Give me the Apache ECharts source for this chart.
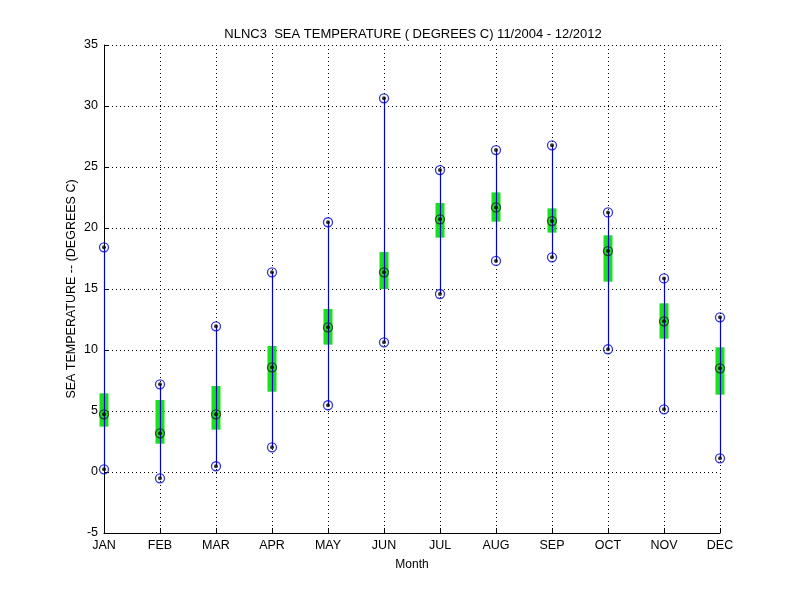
<!DOCTYPE html>
<html>
<head>
<meta charset="utf-8">
<title>NLNC3 sea temperature</title>
<script src="https://cdn.jsdelivr.net/npm/echarts@6/dist/echarts.min.js"></script>
<style>
  html, body { margin: 0; padding: 0; background: #fff; }
  #chart { width: 800px; height: 600px; }
</style>
</head>
<body>
<div id="chart"></div>
<script>
// monthly stats
const months = ['JAN', 'FEB', 'MAR', 'APR', 'MAY', 'JUN', 'JUL', 'AUG', 'SEP', 'OCT', 'NOV', 'DEC'];
const minVals = [0.22, -0.52, 0.47, 2.02, 5.47, 10.63, 14.59, 17.3, 17.6, 10.06, 5.14, 1.12];
const maxVals = [18.42, 7.19, 11.94, 16.37, 20.47, 30.63, 24.75, 26.39, 26.78, 21.28, 15.87, 12.68];
const medVals = [4.73, 3.17, 4.73, 8.58, 11.86, 16.37, 20.71, 21.69, 20.57, 18.11, 12.35, 8.5];
const boxLow = [3.72, 2.32, 3.47, 6.58, 10.44, 15.0, 19.21, 20.52, 19.62, 15.6, 10.93, 6.34];
const boxHigh = [6.45, 5.9, 7.05, 10.33, 13.36, 18.03, 22.05, 22.92, 21.61, 19.4, 13.83, 10.22];

const font = 'Liberation Sans, Arial, sans-serif';

let chart = echarts.init(document.getElementById('chart'));

let boxData = months.map(function (m, i) {
  return [i, boxLow[i], boxHigh[i]];
});
let whiskerData = months.map(function (m, i) {
  return [i, minVals[i], maxVals[i]];
});

//绿色箱体
function renderBox(params, api) {
  let lo = api.coord([api.value(0), api.value(1)]);
  let hi = api.coord([api.value(0), api.value(2)]);
  return {
    type: 'rect',
    shape: { x: lo[0] - 4.5, y: hi[1], width: 9, height: lo[1] - hi[1] },
    style: { fill: '#19e019' }
  };
}

//蓝色竖线
function renderWhisker(params, api) {
  let lo = api.coord([api.value(0), api.value(1)]);
  let hi = api.coord([api.value(0), api.value(2)]);
  let x = Math.round(lo[0]) + 0.5;
  return {
    type: 'line',
    shape: { x1: x, y1: lo[1], x2: x, y2: hi[1] },
    style: { stroke: '#0000c8', lineWidth: 1.2 }
  };
}

function ringSeries(data, color) {
  return {
    type: 'scatter',
    data: data,
    symbol: 'circle',
    symbolSize: 9,
    clip: false,
    z: 5,
    itemStyle: { color: 'rgba(0,0,0,0)', borderColor: color, borderWidth: 1.3 }
  };
}

function dotSeries(data) {
  return {
    type: 'scatter',
    data: data,
    symbol: 'circle',
    symbolSize: 4,
    clip: false,
    z: 6,
    itemStyle: { color: '#000' }
  };
}

let option = {
  animation: false,
  backgroundColor: '#fff',
  title: {
    text: 'NLNC3  SEA TEMPERATURE ( DEGREES C) 11/2004 - 12/2012',
    left: 408,
    textAlign: 'center',
    top: 23,
    textStyle: { fontFamily: font, fontSize: 13, fontWeight: 'normal', color: '#000' }
  },
  grid: { left: 104, right: 80, top: 45, bottom: 67 },
  xAxis: {
    type: 'category',
    data: months,
    boundaryGap: false,
    name: 'Month',
    nameLocation: 'middle',
    nameGap: 26,
    nameTextStyle: { fontFamily: font, fontSize: 12, color: '#000' },
    axisLine: { onZero: false, lineStyle: { color: '#000', width: 1 } },
    axisTick: { inside: true, length: 5, lineStyle: { color: '#000' } },
    axisLabel: { fontFamily: font, fontSize: 12.5, color: '#000', margin: 6, interval: 0 },
    splitLine: { show: true, lineStyle: { color: '#000', type: [1, 3], width: 1 } }
  },
  yAxis: {
    type: 'value',
    min: -5,
    max: 35,
    interval: 5,
    name: 'SEA TEMPERATURE -- (DEGREES C)',
    nameLocation: 'middle',
    nameGap: 26,
    nameMoveOverlap: false,
    nameTextStyle: { fontFamily: font, fontSize: 12.5, color: '#000' },
    axisLine: { show: true, lineStyle: { color: '#000', width: 1 } },
    axisTick: { show: true, inside: true, length: 5, lineStyle: { color: '#000' } },
    axisLabel: { fontFamily: font, fontSize: 12.5, color: '#000', margin: 6 },
    splitLine: { show: true, lineStyle: { color: '#000', type: [1, 3], width: 1 } }
  },
  series: [
    {
      type: 'custom',
      data: boxData,
      renderItem: renderBox,
      clip: false,
      z: 2,
      encode: { x: 0, y: [1, 2] }
    },
    {
      type: 'custom',
      data: whiskerData,
      renderItem: renderWhisker,
      clip: false,
      z: 3,
      encode: { x: 0, y: [1, 2] }
    },
    ringSeries(minVals, '#0000c8'),
    ringSeries(maxVals, '#0000c8'),
    ringSeries(medVals, '#202020'),
    dotSeries(minVals),
    dotSeries(maxVals),
    dotSeries(medVals)
  ]
};

chart.setOption(option);
</script>
</body>
</html>
